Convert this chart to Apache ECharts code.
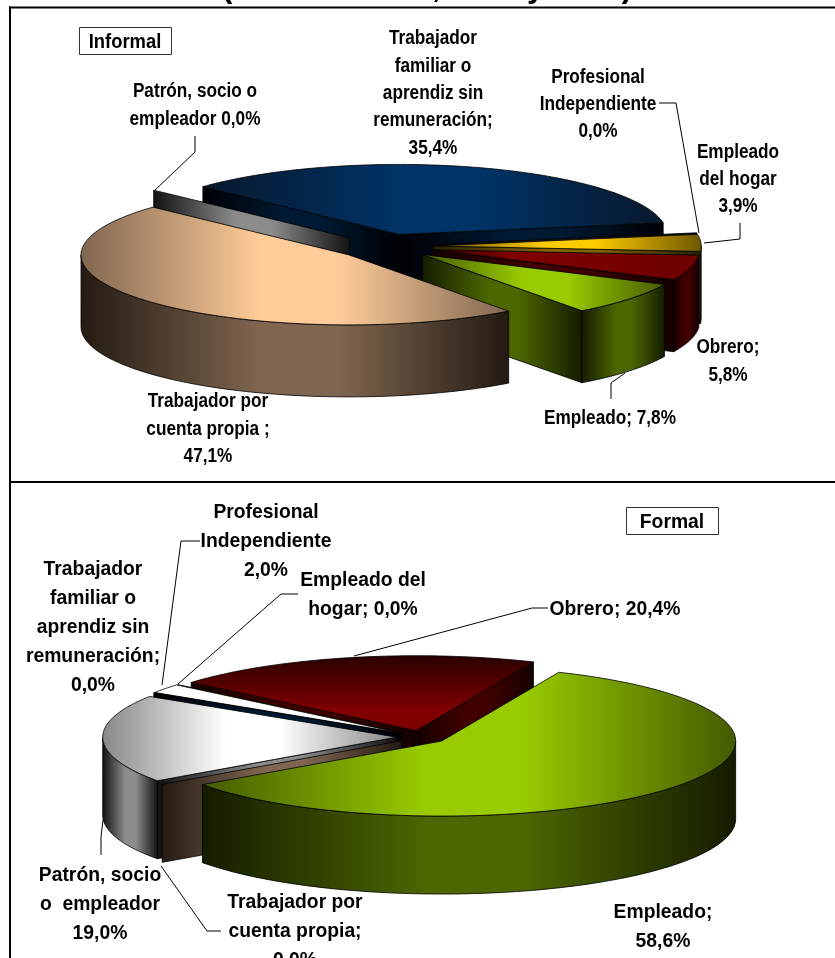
<!DOCTYPE html>
<html>
<head>
<meta charset="utf-8">
<style>html,body{margin:0;padding:0;background:#fff}#c{width:835px;height:958px}</style>
<script src="https://cdn.jsdelivr.net/npm/echarts@6/dist/echarts.min.js"></script>
</head>
<body>
<div id="c"></div>
<script>
// Data: clockwise order, percentages
const informalCategories = ['Trabajador familiar o aprendiz sin remuneración','Profesional Independiente','Empleado del hogar','Obrero','Empleado','Trabajador por cuenta propia','Patrón, socio o empleador'];
const informalValues = [35.4, 0, 3.9, 5.8, 7.8, 47.1, 0];
const formalCategories = ['Empleado','Trabajador por cuenta propia','Patrón, socio o empleador','Trabajador familiar o aprendiz sin remuneración','Profesional Independiente','Empleado del hogar','Obrero'];
const formalValues = [58.6, 0, 19.0, 0, 2.0, 0, 20.4];

const titleText = '(Informal 1995, 1996 y 1997)';
const informalLabels = [
  ['Trabajador\nfamiliar o\naprendiz sin\nremuneración;\n35,4%', 433, 93.5],
  ['Profesional\nIndependiente\n0,0%', 598, 104.5],
  ['Patrón, socio o\nempleador 0,0%', 195, 105.5],
  ['Empleado\ndel hogar\n3,9%', 738, 179.5],
  ['Obrero;\n5,8%', 728, 361.5],
  ['Empleado; 7,8%', 610, 418.5],
  ['Trabajador por\ncuenta propia ;\n47,1%', 208, 429]
];
const formalLabels = [
  ['Profesional\nIndependiente\n2,0%', 266, 541],
  ['Trabajador\nfamiliar o\naprendiz sin\nremuneración;\n0,0%', 93, 627],
  ['Empleado del\nhogar; 0,0%', 363, 595],
  ['Obrero; 20,4%', 615, 609],
  ['Patrón, socio\no  empleador\n19,0%', 100, 904],
  ['Trabajador por\ncuenta propia;\n0,0%', 295, 931],
  ['Empleado;\n58,6%', 663, 926.5]
];
const informalLeaders = [
  [[195,136],[195,152],[154,191]],
  [[659,103],[676,103],[699,233]],
  [[740,223],[740,239],[704,243]],
  [[611,399],[611,383],[625,373]]
];
const formalLeaders = [
  [[200,541],[181,541],[162,685]],
  [[298,594],[281,594],[178,684]],
  [[548,608],[532,608],[354,656]],
  [[101,855],[101,837],[103,820]],
  [[221,931],[207,931],[161,866]]
];

// Styles per category
const G = echarts.graphic.LinearGradient;
const styles = {
  'Trabajador familiar o aprendiz sin remuneración': {top:['#08182c','#003366'], side:['#000004','#001a33']},
  'Profesional Independiente': {top:['#ffffff','#ffffff'], side:['#000000','#1c1c1c']},
  'Empleado del hogar': {top:['#6e5800','#ffcc00'], side:['#2a2000','#806600']},
  'Obrero': {top:['#2a0000','#800000'], side:['#140000','#400000'], vertical:true},
  'Empleado': {top:['#445a00','#99cc00'], side:['#141c00','#4d6600']},
  'Trabajador por cuenta propia': {top:['#806650','#ffcc99'], side:['#231a12','#806650']},
  'Patrón, socio o empleador': {top:['#888888','#ffffff'], side:['#111111','#8c8c8c']}
};
function grad(c, mode) {
  if (mode === 'vertical') return new G(0,0,0,1,[{offset:0,color:c[0]},{offset:.72,color:c[1]},{offset:1,color:c[1]}]);
  if (mode === 'flat') return new G(0,0,1,0,[{offset:0,color:c[0]},{offset:.3,color:c[1]},{offset:1,color:'#6e0000'}]);
  return new G(0,0,1,0,[{offset:0,color:c[0]},{offset:.42,color:c[1]},{offset:.6,color:c[1]},{offset:1,color:c[0]}]);
}

function pieSeries(cats, vals, cfg) {
  const RAD = Math.PI/180;
  let a = cfg.start;
  const slices = vals.map((v,i)=>{ const s={i,a0:a,a1:a+v*3.6}; a=s.a1; s.mid=(s.a0+s.a1)/2; return s; });
  // paint order: back of the pie first
  const order = slices.slice().sort((p,q)=>Math.sin(p.mid*RAD)-Math.sin(q.mid*RAD));
  const P = (o,t,dy)=>[o[0]+cfg.rx*Math.cos(t*RAD), o[1]+cfg.ry*Math.sin(t*RAD)+(dy||0)];
  return {
    type:'custom', coordinateSystem:'none', silent:true, animation:false,
    data: order.map(s=>({name:cats[s.i], value:[vals[s.i], s.a0, s.mid]})),
    renderItem(params, api){
      const v=api.value(0), a0=api.value(1), mid=api.value(2), a1=a0+v*3.6;
      const st=styles[cats[order[params.dataIndex].i]];
      const o=[cfg.cx+cfg.ex*cfg.rx*Math.cos(mid*RAD), cfg.cy+cfg.ex*cfg.ry*Math.sin(mid*RAD)];
      const kids=[];
      const poly=(pts,fill)=>kids.push({type:'polygon',shape:{points:pts},style:{fill,stroke:'#000',lineWidth:0.8}});
      const wall=(t)=>{const e=P(o,t); poly([o,e,[e[0],e[1]+cfg.d],[o[0],o[1]+cfg.d]],grad(st.side));};
      // radial walls facing the viewer
      if (v===0) { wall(a0); }
      else {
        if (-Math.cos(a0*RAD)>0) wall(a0);
        if (Math.cos(a1*RAD)>0) wall(a1);
      }
      // outer rim, front half only
      for (let k=-1;k<=2;k++){
        const lo=Math.max(a0,k*360), hi=Math.min(a1,k*360+180);
        if (hi>lo){
          const up=[],dn=[];
          for(let j=0;j<=48;j++){const t=lo+(hi-lo)*j/48; up.push(P(o,t)); dn.unshift(P(o,t,cfg.d));}
          poly(up.concat(dn),grad(st.side));
        }
      }
      // top face
      if (v>0){
        const pts=[o];
        const n=Math.max(8,Math.ceil(v*3));
        for(let j=0;j<=n;j++) pts.push(P(o,a0+(a1-a0)*j/n));
        const mode = st.vertical ? (cfg.redMode || 'vertical') : undefined;
        poly(pts,grad(st.top,mode));
      }
      return {type:'group',children:kids};
    }
  };
}

const textEl=(t,x,y,size,sx,lh)=>({type:'text',x,y,scaleX:sx,z:20,silent:true,
  style:{text:t,font:'bold '+size+'px "Liberation Sans", Arial, sans-serif',fill:'#000',align:'center',verticalAlign:'middle',lineHeight:lh}});
const lineEl=p=>({type:'polyline',z:15,silent:true,shape:{points:p},style:{stroke:'#000',lineWidth:1,fill:null}});
const boxEl=(x,y,w,h)=>({type:'rect',z:15,silent:true,shape:{x,y,width:w,height:h},style:{fill:'#fff',stroke:'#333',lineWidth:1}});
const bar=(x,y,w,h)=>({type:'rect',z:18,silent:true,shape:{x,y,width:w,height:h},style:{fill:'#000'}});

const graphics=[
  {type:'text',x:427,y:3.5,z:10,silent:true,style:{text:titleText,font:'bold 31px "Liberation Sans", Arial, sans-serif',fill:'#000',align:'center',verticalAlign:'bottom'}},
  bar(9,6.5,826,2), bar(9,6.5,2,952), bar(9,481,826,2),
  boxEl(79.5,27.5,92,27), boxEl(626.5,507.5,92,27),
  textEl('Informal',125,42,20,0.92,27), textEl('Formal',672,522,21,0.92,27)
];
informalLeaders.concat(formalLeaders).forEach(p=>graphics.push(lineEl(p)));
informalLabels.forEach(l=>graphics.push(textEl(l[0],l[1],l[2],20,0.86,27.4)));
formalLabels.forEach(l=>graphics.push(textEl(l[0],l[1],l[2],21,0.92,29)));

const chart=echarts.init(document.getElementById('c'),null,{renderer:'canvas'});
chart.setOption({
  backgroundColor:'#fff',
  animation:false,
  graphic:{elements:graphics},
  series:[
    pieSeries(informalCategories,informalValues,{cx:385,cy:246.5,rx:268,ry:70,d:72,ex:0.18,start:223,redMode:'flat'}),
    pieSeries(formalCategories,formalValues,{cx:422,cy:737,rx:294,ry:75,d:78,ex:0.086,start:293.5})
  ]
});
</script>
</body>
</html>
